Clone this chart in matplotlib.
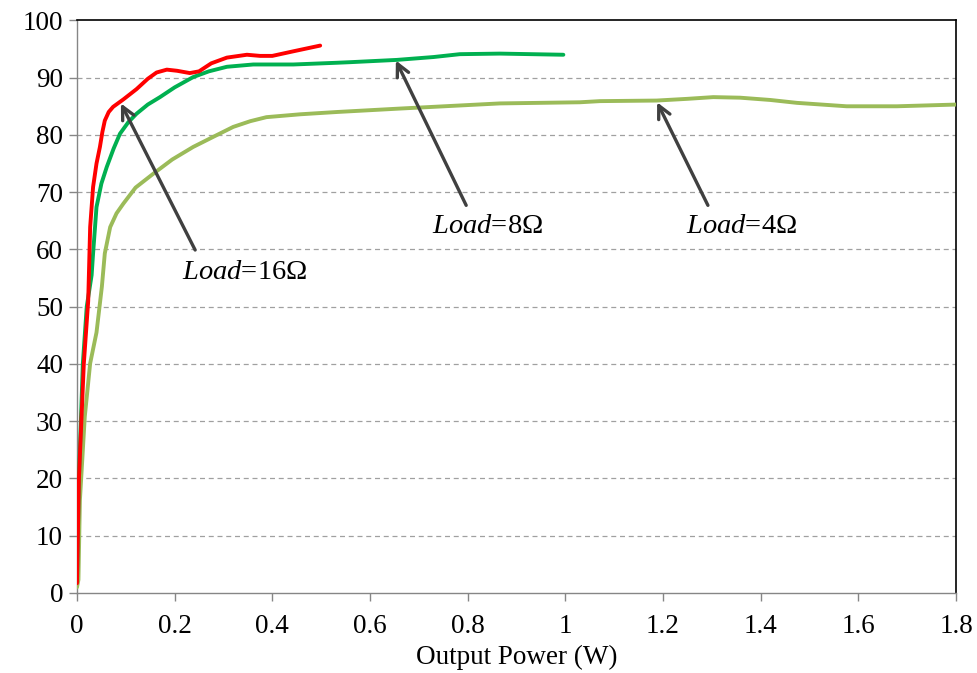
import matplotlib
matplotlib.use("Agg")
import matplotlib.pyplot as plt

# Efficiency (%) versus output power (W) for three load resistances
p_16 = [0.0, 0.004, 0.014, 0.023, 0.027, 0.033, 0.040, 0.047, 0.052, 0.057,
        0.065, 0.074, 0.095, 0.122, 0.145, 0.163, 0.184, 0.205, 0.231, 0.250,
        0.275, 0.307, 0.348, 0.375, 0.400, 0.443, 0.498]
eff_16 = [1.7, 20.0, 40.0, 51.0, 63.9, 70.9, 75.0, 77.9, 80.5, 82.5,
          84.0, 84.9, 86.2, 88.0, 89.8, 90.9, 91.4, 91.2, 90.8, 91.1,
          92.5, 93.5, 94.0, 93.8, 93.8, 94.6, 95.6]

p_8 = [0.0, 0.004, 0.012, 0.020, 0.030, 0.033, 0.040, 0.050, 0.061, 0.075,
       0.088, 0.105, 0.122, 0.145, 0.170, 0.200, 0.238, 0.270, 0.307, 0.361,
       0.443, 0.532, 0.559, 0.655, 0.730, 0.784, 0.866, 0.996]
eff_8 = [2.0, 20.0, 40.0, 50.0, 55.5, 59.3, 67.4, 71.5, 74.4, 77.6,
         80.2, 82.2, 83.7, 85.3, 86.6, 88.3, 90.1, 91.1, 91.9, 92.3,
         92.3, 92.6, 92.7, 93.1, 93.6, 94.1, 94.2, 94.0]

p_4 = [0.0, 0.003, 0.006, 0.016, 0.027, 0.040, 0.051, 0.057, 0.068, 0.081,
       0.095, 0.120, 0.156, 0.195, 0.238, 0.280, 0.320, 0.355, 0.388, 0.457,
       0.532, 0.661, 0.866, 1.030, 1.071, 1.187, 1.250, 1.303, 1.358, 1.420,
       1.474, 1.576, 1.679, 1.800]
eff_4 = [1.0, 2.3, 16.2, 30.8, 40.1, 45.5, 53.5, 59.3, 63.9, 66.3,
         68.0, 70.8, 73.2, 75.7, 77.9, 79.7, 81.4, 82.4, 83.1, 83.6,
         84.0, 84.6, 85.5, 85.7, 85.9, 86.0, 86.3, 86.6, 86.5, 86.1,
         85.6, 85.0, 85.0, 85.3]

x_ticks = [0, 0.2, 0.4, 0.6, 0.8, 1.0, 1.2, 1.4, 1.6, 1.8]
x_tick_labels = ["0", "0.2", "0.4", "0.6", "0.8", "1", "1.2", "1.4", "1.6", "1.8"]
y_ticks = list(range(0, 101, 10))

# Annotation arrows: (load in ohms, text position, arrow tail, arrow tip)
annotations = [
    ("16", (0.215, 56.0), (0.242, 59.9), (0.090, 85.5)),
    ("8", (0.727, 64.0), (0.797, 67.7), (0.653, 93.0)),
    ("4", (1.247, 64.0), (1.292, 67.7), (1.188, 85.7)),
]

plt.rcParams["font.family"] = ["Liberation Serif", "DejaVu Serif"]
plt.rcParams["mathtext.fontset"] = "custom"
plt.rcParams["mathtext.rm"] = "Liberation Serif"
plt.rcParams["mathtext.it"] = "Liberation Serif:italic"

fig = plt.figure(figsize=(9.78, 6.73), dpi=100)
ax = fig.add_axes([0.0787, 0.1189, 0.8988, 0.8508])

lw = 2.8
ax.plot(p_4, eff_4, color="#9BBB59", lw=lw, solid_joinstyle="round",
        solid_capstyle="round", zorder=3)
ax.plot(p_8, eff_8, color="#00B050", lw=lw, solid_joinstyle="round",
        solid_capstyle="round", zorder=4)
ax.plot(p_16, eff_16, color="#FF0000", lw=lw, solid_joinstyle="round",
        solid_capstyle="round", zorder=5)

ax.set_xlim(0, 1.8)
ax.set_ylim(0, 100)
ax.set_xticks(x_ticks)
ax.set_xticklabels(x_tick_labels)
ax.set_yticks(y_ticks)

# dashed horizontal grid, skipping the frame lines at 0 and 100
for yv in y_ticks[1:-1]:
    ax.axhline(yv, color="#A0A0A0", lw=0.9, ls=(0, (4, 3)), zorder=1)

for side in ("left", "bottom"):
    ax.spines[side].set_color("#868686")
    ax.spines[side].set_linewidth(1.0)
for side in ("top", "right"):
    ax.spines[side].set_color("black")
    ax.spines[side].set_linewidth(1.2)

ax.tick_params(axis="both", direction="out", length=6, width=1.0,
               color="#868686", labelsize=19.5)
ax.tick_params(axis="x", pad=9)
ax.tick_params(axis="y", pad=4)

ax.set_xlabel("Output Power (W)", fontsize=19.5, labelpad=4)

for ohm, txt_pos, tail, tip in annotations:
    ax.annotate("", xy=tip, xytext=tail,
                arrowprops=dict(arrowstyle="->,head_length=0.9,head_width=0.45",
                                color="#404040", lw=2.4, shrinkA=0, shrinkB=0),
                zorder=6)
    ax.text(txt_pos[0], txt_pos[1], r"$\mathit{Load}$=" + ohm + "Ω",
            fontsize=20.5, va="center", ha="left", zorder=7)

fig.savefig("out.png", dpi=100)
